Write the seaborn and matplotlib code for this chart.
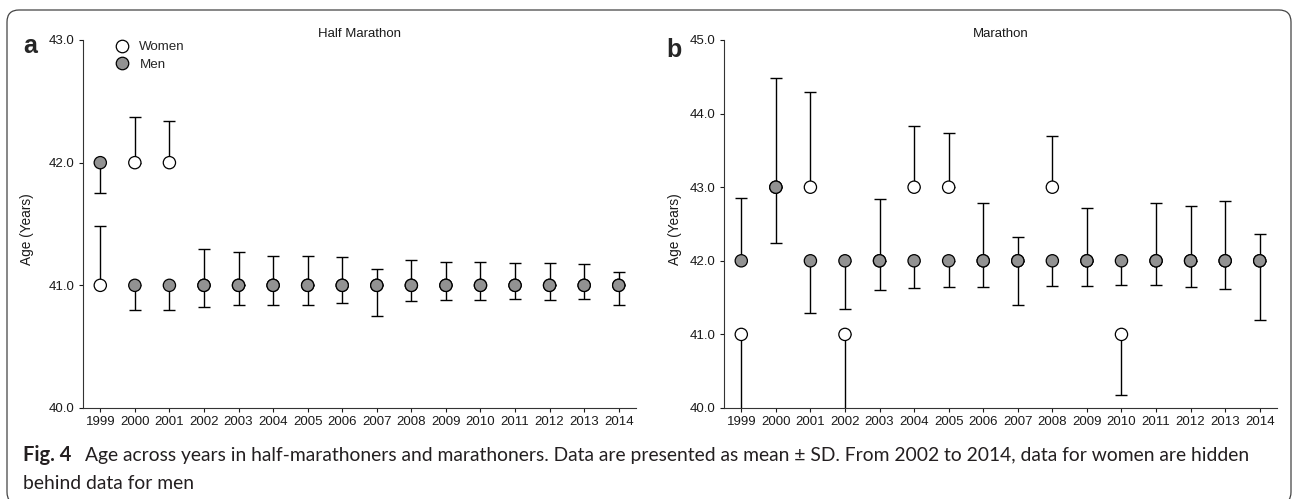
import matplotlib
matplotlib.use("Agg")
import matplotlib.pyplot as plt
from matplotlib.lines import Line2D
from matplotlib.patches import FancyBboxPatch
from matplotlib.ticker import FormatStrFormatter
import pandas as pd
import seaborn as sns

years = list(range(1999, 2015))

# Half marathon: mean age, SD drawn up for women and down for men
half_women = [41, 42, 42, 41, 41, 41, 41, 41, 41, 41, 41, 41, 41, 41, 41, 41]
half_women_lo = [0] * 16
half_women_hi = [0.48, 0.37, 0.34, 0.30, 0.27, 0.24, 0.24, 0.23, 0.13, 0.21, 0.19, 0.19, 0.18, 0.18, 0.17, 0.11]
half_men = [42, 41, 41, 41, 41, 41, 41, 41, 41, 41, 41, 41, 41, 41, 41, 41]
half_men_lo = [0.25, 0.20, 0.20, 0.18, 0.16, 0.16, 0.16, 0.14, 0.25, 0.13, 0.12, 0.12, 0.11, 0.12, 0.11, 0.16]
half_men_hi = [0] * 16

# Marathon
full_women = [41, 43, 43, 41, 42, 43, 43, 42, 42, 43, 42, 41, 42, 42, 42, 42]
full_women_lo = [1.3, 0, 0, 1.3, 0, 0, 0, 0, 0, 0, 0, 0.83, 0, 0, 0, 0]
full_women_hi = [0, 1.49, 1.29, 0, 0.84, 0.83, 0.74, 0.78, 0.32, 0.69, 0.72, 0, 0.78, 0.75, 0.81, 0.36]
full_men = [42, 43, 42, 42, 42, 42, 42, 42, 42, 42, 42, 42, 42, 42, 42, 42]
full_men_lo = [0, 0.76, 0.71, 0.66, 0.40, 0.37, 0.35, 0.35, 0.60, 0.34, 0.34, 0.33, 0.33, 0.35, 0.38, 0.81]
full_men_hi = [0.86, 0, 0, 0, 0, 0, 0, 0, 0, 0, 0, 0, 0, 0, 0, 0]

GREY = "#929292"
INK = "#1a1a1a"

sns.set_style("ticks")
plt.rcParams["font.family"] = ["Liberation Sans", "DejaVu Sans"]

W, H = 1292, 499
fig = plt.figure(figsize=(W / 100, H / 100), dpi=100)


def panel(left, women, w_lo, w_hi, men, m_lo, m_hi, ylim, title, ylab_x):
    ax = fig.add_axes([left / W, 1 - 408 / H, 553 / W, 368 / H])
    bar_kw = dict(fmt="none", ecolor="black", elinewidth=1.0, capsize=4, capthick=1.0, zorder=1)
    ax.errorbar(years, women, yerr=[w_lo, w_hi], **bar_kw)
    ax.errorbar(years, men, yerr=[m_lo, m_hi], **bar_kw)
    df = pd.DataFrame({"Year": years * 2, "Age": women + men,
                       "Sex": ["Women"] * len(years) + ["Men"] * len(years)})
    sns.scatterplot(data=df, x="Year", y="Age", hue="Sex",
                    palette={"Women": "white", "Men": GREY}, s=78,
                    edgecolor="black", linewidth=0.9, legend=False, ax=ax, zorder=3)
    ax.set_xlim(1998.5, 2014.5)
    ax.set_ylim(*ylim)
    ax.set_xticks(years)
    ax.set_xticklabels([str(y) for y in years])
    ax.set_yticks(range(ylim[0], ylim[1] + 1))
    ax.yaxis.set_major_formatter(FormatStrFormatter("%.1f"))
    ax.tick_params(labelsize=9.5, length=3, width=0.8, pad=3, colors=INK)
    ax.set_xlabel("")
    ax.set_ylabel("Age (Years)", fontsize=9.8, color=INK)
    ax.yaxis.set_label_coords(ylab_x, 0.486)
    for s in ["left", "bottom"]:
        ax.spines[s].set_linewidth(0.8)
        ax.spines[s].set_color("#333333")
    sns.despine(ax=ax)
    ax.text(0.5, 1 + 6 / 368, title, transform=ax.transAxes, ha="center", va="center",
            fontsize=9.5, color=INK)
    return ax


ax_a = panel(83, half_women, half_women_lo, half_women_hi, half_men, half_men_lo, half_men_hi,
             (40, 43), "Half Marathon", -0.088)
ax_b = panel(724, full_women, full_women_lo, full_women_hi, full_men, full_men_lo, full_men_hi,
             (40, 45), "Marathon", -0.076)

handles = [Line2D([], [], marker="o", ls="", mfc="white", mec="black", ms=9, mew=0.9),
           Line2D([], [], marker="o", ls="", mfc=GREY, mec="black", ms=9, mew=0.9)]
ax_a.legend(handles, ["Women", "Men"], loc="upper left", frameon=False, fontsize=9.6,
            bbox_to_anchor=(115.4 / W, 1 - 41 / H), bbox_transform=fig.transFigure,
            borderaxespad=0, borderpad=0, handlelength=1.0, handletextpad=0.8, labelspacing=0.4)

fig.text(23 / W, 1 - 53 / H, "a", fontsize=18, fontweight="bold", va="baseline")
fig.text(666 / W, 1 - 57 / H, "b", fontsize=18, fontweight="bold", va="baseline")

# caption
cap_font = ["Lato", "DejaVu Sans"]
cap_size = 14.5
t = fig.text(23 / W, 1 - 461 / H, "Fig. 4", fontsize=cap_size, fontweight="bold",
             family=cap_font, va="baseline", color="#231f20")
fig.canvas.draw()
x_end = t.get_window_extent().x1
rest = fig.text((x_end + 14) / W, 1 - 461 / H,
                "Age across years in half-marathoners and marathoners. Data are presented as mean \u00b1 SD. "
                "From 2002 to 2014, data for women are hidden",
                fontsize=cap_size, family=cap_font, va="baseline", color="#231f20")
fig.canvas.draw()
ext = rest.get_window_extent()
fit = (1247 - ext.x0) / ext.width
rest.set_fontsize(cap_size * fit)
fig.text(23 / W, 1 - 489 / H, "behind data for men", fontsize=cap_size * fit, family=cap_font,
         va="baseline", color="#231f20")

# rounded frame
frame = FancyBboxPatch((0.07, -0.05), 12.84, 4.94, boxstyle="round,pad=0,rounding_size=0.12",
                       transform=fig.dpi_scale_trans, fill=False, edgecolor="#444444",
                       linewidth=0.9, clip_on=False)
fig.patches.append(frame)

fig.savefig("out.png", dpi=100)
